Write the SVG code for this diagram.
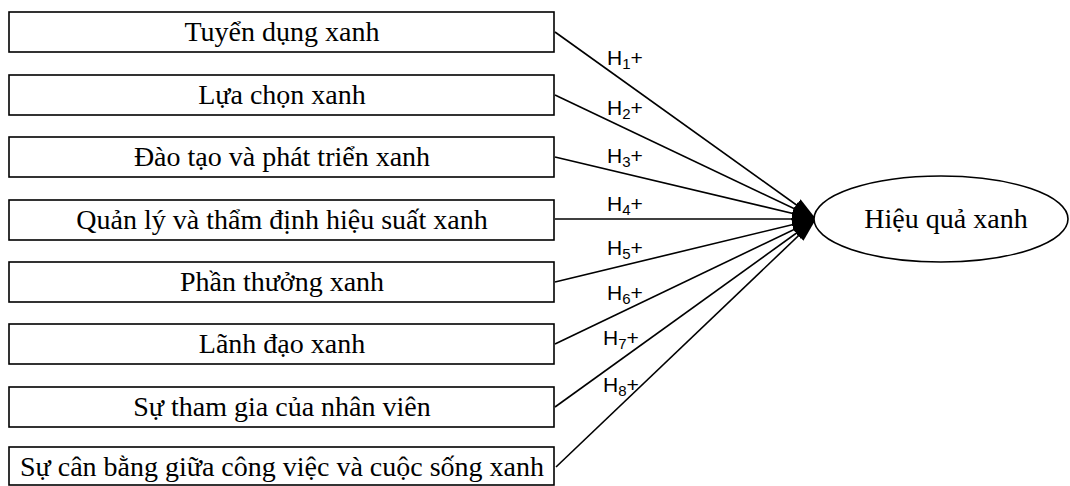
<svg xmlns="http://www.w3.org/2000/svg" width="1070" height="486" viewBox="0 0 1070 486">
<style>
.box{fill:#fff;stroke:#000;stroke-width:1.6}
.bt{font-family:"Liberation Serif","Times New Roman",serif;font-size:28px;text-anchor:middle;fill:#000}
.con{stroke:#000;stroke-width:1.6;fill:none;marker-end:url(#ah)}
.hl{font-family:"Liberation Sans",Arial,sans-serif;font-size:21px;fill:#000}
.sub{font-size:15px}
</style>
<defs>
<marker id="ah" markerUnits="userSpaceOnUse" markerWidth="26" markerHeight="16" refX="24" refY="7" orient="auto">
<path d="M0,0 L24,7 L0,14 z" fill="#000"/>
</marker>
</defs>
<rect width="1070" height="486" fill="#fff"/>
<g id="connectors">
<line class="con" x1="555" y1="32" x2="816" y2="219"/>
<line class="con" x1="555" y1="95" x2="816" y2="219"/>
<line class="con" x1="555" y1="157" x2="816" y2="219"/>
<line class="con" x1="555" y1="219" x2="816" y2="219"/>
<line class="con" x1="555" y1="282" x2="816" y2="219"/>
<line class="con" x1="555" y1="344" x2="816" y2="219"/>
<line class="con" x1="555" y1="407" x2="816" y2="219"/>
<line class="con" x1="556" y1="467" x2="816" y2="219"/>
<text class="hl" x="607" y="65">H<tspan class="sub" dy="4">1</tspan><tspan dy="-4">+</tspan></text>
<text class="hl" x="607" y="115">H<tspan class="sub" dy="4">2</tspan><tspan dy="-4">+</tspan></text>
<text class="hl" x="607" y="163">H<tspan class="sub" dy="4">3</tspan><tspan dy="-4">+</tspan></text>
<text class="hl" x="607" y="211">H<tspan class="sub" dy="4">4</tspan><tspan dy="-4">+</tspan></text>
<text class="hl" x="607" y="255">H<tspan class="sub" dy="4">5</tspan><tspan dy="-4">+</tspan></text>
<text class="hl" x="607" y="300">H<tspan class="sub" dy="4">6</tspan><tspan dy="-4">+</tspan></text>
<text class="hl" x="603" y="345">H<tspan class="sub" dy="4">7</tspan><tspan dy="-4">+</tspan></text>
<text class="hl" x="603" y="392">H<tspan class="sub" dy="4">8</tspan><tspan dy="-4">+</tspan></text>
</g>
<g id="n1"><rect class="box" x="9" y="12" width="545" height="40"/><text class="bt" x="282" y="41">Tuyển dụng xanh</text></g>
<g id="n2"><rect class="box" x="9" y="75" width="545" height="40"/><text class="bt" x="282" y="104">Lựa chọn xanh</text></g>
<g id="n3"><rect class="box" x="9" y="137" width="545" height="40"/><text class="bt" x="282" y="166">Đào tạo và phát triển xanh</text></g>
<g id="n4"><rect class="box" x="9" y="200" width="545" height="40"/><text class="bt" x="282" y="229">Quản lý và thẩm định hiệu suất xanh</text></g>
<g id="n5"><rect class="box" x="9" y="262" width="545" height="40"/><text class="bt" x="282" y="291">Phần thưởng xanh</text></g>
<g id="n6"><rect class="box" x="9" y="324" width="545" height="40"/><text class="bt" x="282" y="353">Lãnh đạo xanh</text></g>
<g id="n7"><rect class="box" x="9" y="387" width="545" height="40"/><text class="bt" x="282" y="416">Sự tham gia của nhân viên</text></g>
<g id="n8"><rect class="box" x="9" y="447" width="545" height="38"/><text class="bt" x="282" y="476">Sự cân bằng giữa công việc và cuộc sống xanh</text></g>
<g id="n9"><ellipse cx="941" cy="219" rx="127" ry="43" fill="#fff" stroke="#000" stroke-width="1.6"/><text class="bt" x="946" y="228">Hiệu quả xanh</text></g>
</svg>
